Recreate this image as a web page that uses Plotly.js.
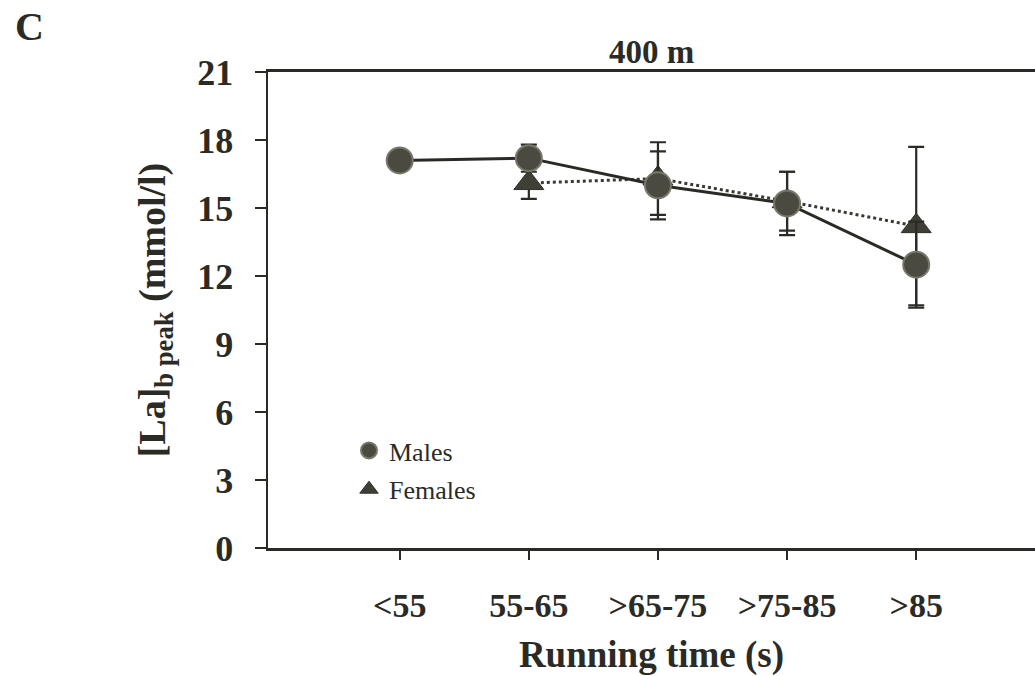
<!DOCTYPE html>
<html>
<head>
<meta charset="utf-8">
<script src="https://cdn.plot.ly/plotly-3.0.1.min.js"></script>
<style>html,body{margin:0;padding:0;background:#fff;}#chart{width:1035px;height:676px;}</style>
</head>
<body>
<div id="chart"></div>
<script>
const categories = ["<55", "55-65", ">65-75", ">75-85", ">85"];
const malesMean = [17.1, 17.2, 16.0, 15.2, 12.5];
const malesErr = [0.3, 0.6, 1.5, 1.4, 1.9];
const femalesX = ["55-65", ">65-75", ">75-85", ">85"];
const femalesMean = [16.1, 16.3, 15.3, 14.2];
const femalesErr = [0.7, 1.6, 1.3, 3.5];
const yTicks = [0, 3, 6, 9, 12, 15, 18, 21];

const serif = '"Liberation Serif", "DejaVu Serif", serif';
const ink = '#2b2b26';
const femaleMarker = {symbol: 'triangle-up', size: 26, color: '#3f3f36', line: {color: '#2f2f28', width: 1}};
const maleMarker = {symbol: 'circle', size: 26, color: '#4a4a40', line: {color: '#77776a', width: 2}};

const traces = [
  {
    x: femalesX, y: femalesMean, name: 'Females', type: 'scatter', mode: 'lines+markers',
    showlegend: false,
    line: {color: '#3a3a33', width: 3, dash: 'dot'},
    marker: femaleMarker,
    error_y: {type: 'data', array: femalesErr, visible: true, color: ink, thickness: 2.2, width: 8}
  },
  {
    x: categories, y: malesMean, name: 'Males', type: 'scatter', mode: 'lines+markers',
    showlegend: false,
    line: {color: '#2a2a25', width: 3},
    marker: maleMarker,
    error_y: {type: 'data', array: malesErr, visible: true, color: ink, thickness: 2.2, width: 8}
  },
  // legend entries (marker only, as in the reference)
  {x: [null], y: [null], name: 'Males', type: 'scatter', mode: 'markers', legendgroup: 'm', legendrank: 1,
   marker: Object.assign({}, maleMarker, {size: 19})},
  {x: [null], y: [null], name: 'Females', type: 'scatter', mode: 'markers', legendgroup: 'f', legendrank: 2,
   marker: Object.assign({}, femaleMarker, {size: 19})}
];

const layout = {
  width: 1035, height: 676,
  margin: {l: 268, r: 0, t: 72, b: 128},
  paper_bgcolor: '#ffffff', plot_bgcolor: '#ffffff',
  font: {family: serif, color: ink},
  showlegend: true,
  legend: {
    x: (349 - 268)/767, y: (548 - 427)/476, xanchor: 'left', yanchor: 'top',
    font: {family: serif, size: 26, color: ink},
    bgcolor: 'rgba(0,0,0,0)', itemsizing: 'trace', tracegroupgap: 2, itemwidth: 30
  },
  title: {
    text: '<b>400 m</b>', x: 0.5, xref: 'paper', xanchor: 'center',
    y: 1 - 51/676, yref: 'container', yanchor: 'middle',
    font: {family: serif, size: 33, color: ink}
  },
  xaxis: {
    type: 'category', categoryorder: 'array', categoryarray: categories,
    range: [-1.02, 4.92],
    showgrid: false, zeroline: false,
    showline: true, linecolor: ink, linewidth: 3, mirror: true,
    ticks: 'outside', ticklen: 9, tickwidth: 2, tickcolor: ink,
    tickfont: {family: serif, size: 34, color: ink, weight: 'bold'},
    ticklabelstandoff: 16,
    title: {text: '<b>Running time (s)</b>', font: {family: serif, size: 37, color: ink}, standoff: 22}
  },
  yaxis: {
    range: [0, 21],
    tickvals: yTicks, ticktext: yTicks.map(v => '<b>' + v + '</b>'),
    showgrid: false, zeroline: false,
    showline: true, linecolor: ink, linewidth: 2.5,
    ticks: 'outside', ticklen: 11, tickwidth: 2, tickcolor: ink,
    tickfont: {family: serif, size: 36, color: ink},
    ticklabelstandoff: 14,
    title: {text: '<b>[La]<sub>b peak</sub> (mmol/l)</b>', font: {family: serif, size: 38, color: ink}, standoff: 20}
  },
  annotations: [
    {text: '<b>C</b>', xref: 'paper', yref: 'paper', x: (29 - 268)/767, y: 1 + (72 - 27)/476,
     xanchor: 'center', yanchor: 'middle', showarrow: false, font: {family: serif, size: 40, color: ink}}
  ]
};

Plotly.newPlot('chart', traces, layout, {displayModeBar: false, staticPlot: true});
</script>
</body>
</html>
